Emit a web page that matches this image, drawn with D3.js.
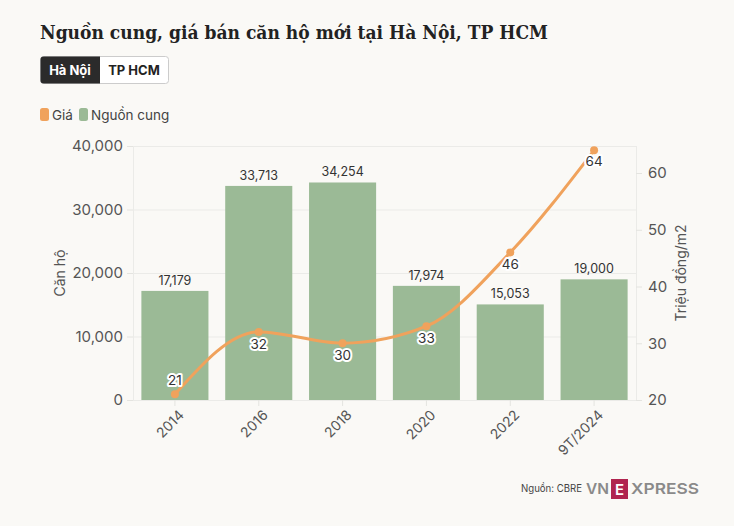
<!DOCTYPE html>
<html><head><meta charset="utf-8">
<script src="https://cdn.jsdelivr.net/npm/d3@7"></script>
<style>
body{margin:0;background:#faf9f6;}
svg text{font-family:"Inter","Noto Sans",sans-serif;}
</style></head>
<body><svg id="c" width="734" height="526"></svg>
<script>
const categories = ["2014","2016","2018","2020","2022","9T/2024"];
const supply = [17179,33713,34254,17974,15053,19000];
const price = [21,32,30,33,46,64];
const leftTicks = [0,10000,20000,30000,40000];
const rightTicks = [20,30,40,50,60];

const svg = d3.select("#c");
svg.append("rect").attr("width",734).attr("height",526).attr("fill","#faf9f6");

const title = svg.append("text").attr("x",40).attr("y",39).text("Nguồn cung, giá bán căn hộ mới tại Hà Nội, TP HCM")
  .style("font-family","'DejaVu Serif',serif").style("font-weight","bold").style("font-size","19px").attr("fill","#222");
// fit title to reference width
title.attr("textLength",508).attr("lengthAdjust","spacingAndGlyphs");

// buttons
svg.append("rect").attr("x",40.5).attr("y",56.5).attr("width",128).attr("height",27).attr("rx",3).attr("fill","#fff").attr("stroke","#ccc");
svg.append("path").attr("d","M43.5,56.5 H100 V83.5 H43.5 Q40.5,83.5 40.5,80.5 V59.5 Q40.5,56.5 43.5,56.5Z").attr("fill","#2b2b2b");
svg.append("text").attr("x",70).attr("y",75).attr("text-anchor","middle").text("Hà Nội").attr("fill","#fff").style("font-weight","bold").style("font-size","13px");
svg.append("text").attr("x",134).attr("y",75).attr("text-anchor","middle").text("TP HCM").attr("fill","#222").style("font-weight","bold").style("font-size","13px");

// legend
const orange="#f0a25c", green="#9bba96";
svg.append("rect").attr("x",40).attr("y",108).attr("width",9).attr("height",13).attr("rx",2.5).attr("fill",orange);
svg.append("text").attr("x",52).attr("y",119.5).text("Giá").attr("fill","#444").style("font-size","13.5px");
svg.append("rect").attr("x",79).attr("y",108).attr("width",9).attr("height",13).attr("rx",2.5).attr("fill",green);
svg.append("text").attr("x",91).attr("y",119.5).text("Nguồn cung").attr("fill","#444").style("font-size","13.5px");

const L=133,R=636,T=146,B=400;
const x = d3.scaleBand().domain(categories).range([L,R]).paddingInner(0.2).paddingOuter(0.1);
const y = d3.scaleLinear().domain([0,40000]).range([B,T]);
const y2 = d3.scaleLinear().domain([20,20+(B-T)/(227/40)]).range([B,T]);

// grid
const g = svg.append("g");
g.selectAll("line.h").data(leftTicks).join("line").attr("x1",L).attr("x2",R).attr("y1",d=>y(d)+0.5).attr("y2",d=>y(d)+0.5).attr("stroke","#ebebe8");
g.append("line").attr("x1",L+0.5).attr("x2",L+0.5).attr("y1",T).attr("y2",B).attr("stroke","#ebebe8");
g.append("line").attr("x1",R+0.5).attr("x2",R+0.5).attr("y1",T).attr("y2",B).attr("stroke","#ebebe8");

// bars
svg.selectAll("rect.bar").data(categories).join("rect").attr("class","bar")
  .attr("x",d=>x(d)).attr("width",x.bandwidth())
  .attr("y",(d,i)=>y(supply[i])).attr("height",(d,i)=>B-y(supply[i])).attr("fill",green);
svg.selectAll("text.bl").data(categories).join("text").attr("class","bl")
  .attr("x",d=>x(d)+x.bandwidth()/2).attr("y",(d,i)=>y(supply[i])-6).attr("text-anchor","middle")
  .text((d,i)=>d3.format(",")(supply[i])).attr("fill","#333").style("font-size","12.5px");

// axes
const ax = svg.append("g").attr("transform",`translate(${L},0)`).call(d3.axisLeft(y).tickValues(leftTicks).tickFormat(d3.format(",")).tickSize(6).tickPadding(4));
ax.select(".domain").remove();
ax.selectAll("line").attr("stroke","#e4e4e0");
ax.selectAll("text").attr("fill","#555").style("font-size","15px");

const ax2 = svg.append("g").attr("transform",`translate(${R},0)`).call(d3.axisRight(y2).tickValues(rightTicks).tickSize(6).tickPadding(6));
ax2.select(".domain").remove();
ax2.selectAll("line").attr("stroke","#e4e4e0");
ax2.selectAll("text").attr("fill","#555").style("font-size","15px");

const axb = svg.append("g").attr("transform",`translate(0,${B})`).call(d3.axisBottom(x).tickSize(6).tickPadding(4));
axb.select(".domain").remove();
axb.selectAll("line").attr("stroke","#e4e4e0");
axb.selectAll("text").attr("fill","#555").style("font-size","14px")
  .attr("text-anchor","end").attr("transform","rotate(-45)").attr("dx","-0.3em").attr("dy","0.6em");

svg.append("text").attr("transform",`translate(65,${(T+B)/2}) rotate(-90)`).attr("text-anchor","middle").text("Căn hộ").attr("fill","#555").style("font-size","14px");
svg.append("text").attr("transform",`translate(686,${(T+B)/2}) rotate(-90)`).attr("text-anchor","middle").text("Triệu đồng/m2").attr("fill","#555").style("font-size","14px");

// line
const cx = d=>x(d)+x.bandwidth()/2;
const line = d3.line().x(d=>cx(d)).y((d,i)=>y2(price[i])).curve(d3.curveMonotoneX);
svg.append("path").datum(categories).attr("d",line).attr("fill","none").attr("stroke",orange).attr("stroke-width",3);
svg.selectAll("circle.pt").data(categories).join("circle").attr("class","pt").attr("cx",cx).attr("cy",(d,i)=>y2(price[i])).attr("r",4).attr("fill",orange);
const offs = [[0,-9],[0,17],[0,17],[0,17],[0,17],[0,16]];
svg.selectAll("text.pl").data(categories).join("text").attr("class","pl")
  .attr("x",(d,i)=>cx(d)+offs[i][0]).attr("y",(d,i)=>y2(price[i])+offs[i][1]).attr("text-anchor","middle")
  .text((d,i)=>price[i]).attr("fill","#333").style("font-size","13.5px")
  .attr("stroke","#fff").attr("stroke-width",4).attr("stroke-linejoin","round").style("paint-order","stroke");

// source
svg.append("text").attr("x",521).attr("y",492).text("Nguồn: CBRE").attr("fill","#444").style("font-size","10.5px")
  .attr("textLength",61).attr("lengthAdjust","spacingAndGlyphs");
svg.append("text").attr("x",586).attr("y",494).text("VN").attr("fill","#8a8a8a").style("font-size","15px").style("font-weight","600")
  .attr("textLength",23).attr("lengthAdjust","spacingAndGlyphs");
svg.append("rect").attr("x",611).attr("y",479).attr("width",17).attr("height",20).attr("fill","#b0244f");
svg.append("text").attr("x",619.5).attr("y",494.5).attr("text-anchor","middle").text("E").attr("fill","#fff").style("font-size","15px").style("font-weight","600");
svg.append("text").attr("x",631).attr("y",494).text("XPRESS").attr("fill","#8a8a8a").style("font-size","15px").style("font-weight","600")
  .attr("textLength",68).attr("lengthAdjust","spacingAndGlyphs");
</script></body></html>
